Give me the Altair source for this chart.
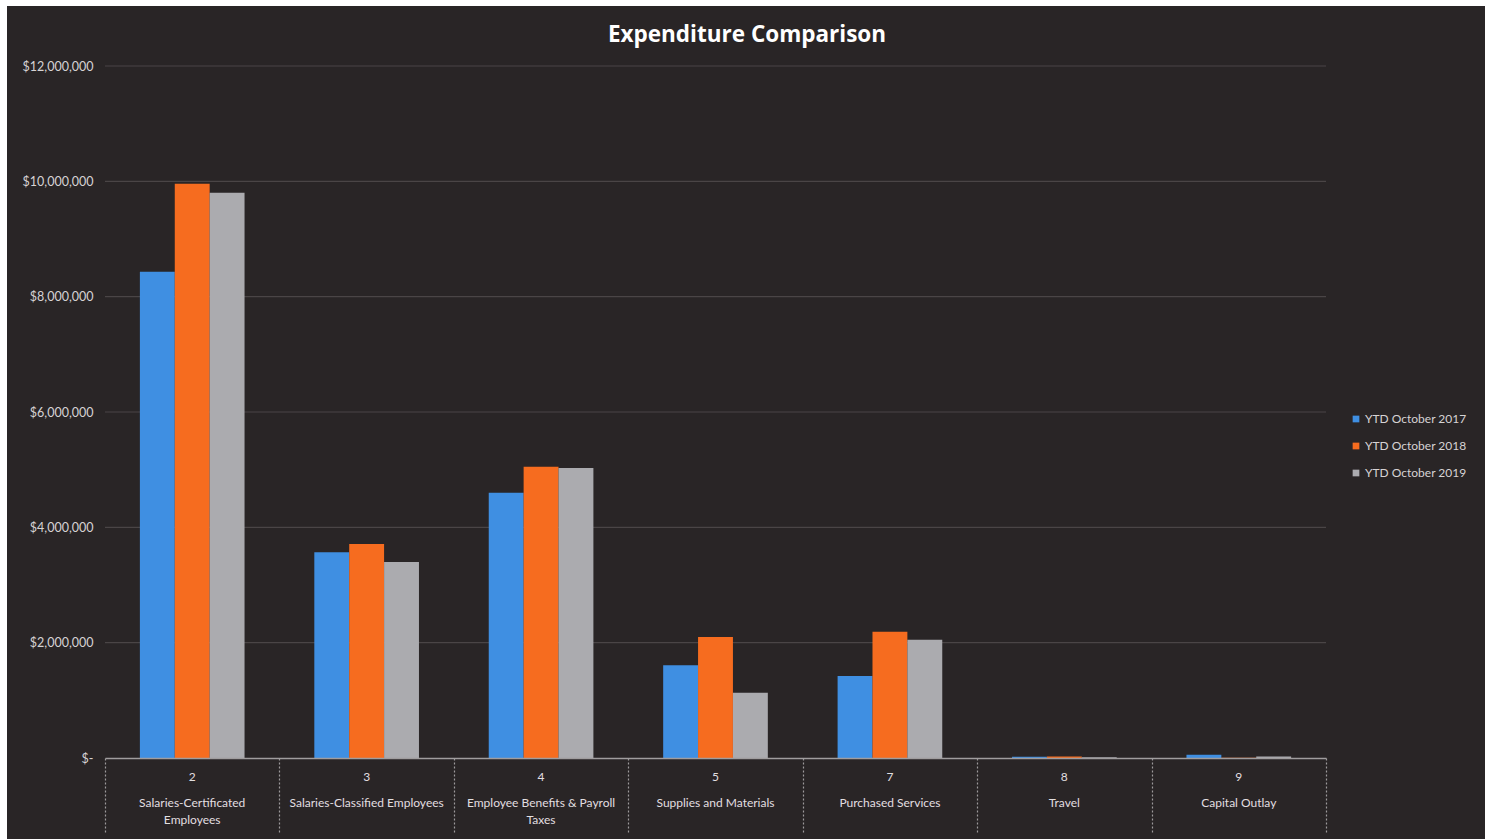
import altair as alt
import pandas as pd

# Object codes and their descriptions along the category axis
codes = ["2", "3", "4", "5", "7", "8", "9"]
names = [
    "Salaries-Certificated\nEmployees",
    "Salaries-Classified Employees",
    "Employee Benefits & Payroll\nTaxes",
    "Supplies and Materials",
    "Purchased Services",
    "Travel",
    "Capital Outlay",
]

# Year-to-date expenditure for each period
series = ["YTD October 2017", "YTD October 2018", "YTD October 2019"]
ytd_2017 = [8430000, 3570000, 4600000, 1610000, 1420000, 22000, 55000]
ytd_2018 = [9960000, 3710000, 5050000, 2100000, 2190000, 26000, 3000]
ytd_2019 = [9800000, 3400000, 5030000, 1130000, 2050000, 12000, 28000]

y_ticks = [2000000, 4000000, 6000000, 8000000, 10000000, 12000000]

title_text = ["Expenditure Comparison"]

colors = ["#3F8FE2", "#F66C1F", "#ABABAF"]

rows = []
for s, vals in zip(series, [ytd_2017, ytd_2018, ytd_2019]):
    for c, v in zip(codes, vals):
        rows.append({"code": c, "series": s, "amount": v})
bars_df = pd.DataFrame(rows)
labels_df = pd.DataFrame({"code": codes, "name": names})
grid_df = pd.DataFrame({"tick": y_ticks})
title_df = pd.DataFrame({"title": title_text})

W, H = 1221, 692
BG = "#292526"
FONT = "Lato"

x_enc = alt.X(
    "code:N",
    sort=codes,
    scale=alt.Scale(paddingInner=0, paddingOuter=0),
    axis=alt.Axis(
        title=None,
        labels=False,
        tickBand="extent",
        tickSize=75,
        tickColor="#9d9a9b",
        tickDash=[2, 2],
        tickWidth=1.2,
        domainColor="#a09d9e",
        domainWidth=1.5,
        grid=False,
        zindex=1,
    ),
)

y_scale = alt.Scale(domain=[0, 12000000], nice=False)

# dark chart panel drawn behind everything else
panel = alt.Chart(pd.DataFrame({"p": [0]})).mark_rect(color=BG).encode(
    x=alt.value(-98), x2=alt.value(1380), y=alt.value(-60), y2=alt.value(H + 81)
)

grid = alt.Chart(grid_df).mark_rule(color="#4a4546", strokeWidth=1.2).encode(
    y=alt.Y("tick:Q", scale=y_scale)
)

bars = alt.Chart(bars_df).mark_bar().encode(
    x=x_enc,
    xOffset=alt.XOffset(
        "series:N",
        sort=series,
        scale=alt.Scale(paddingInner=0, paddingOuter=1),
    ),
    y=alt.Y(
        "amount:Q",
        scale=y_scale,
        axis=alt.Axis(
            title=None,
            values=[0] + y_ticks,
            labelExpr="datum.value == 0 ? '$-' : '$' + format(datum.value, ',')",
            grid=False,
            domain=False,
            ticks=False,
            labelPadding=12,
            labelFont=FONT,
            labelFontSize=12.5,
            labelColor="#d6d3d4",
            zindex=1,
        ),
    ),
    color=alt.Color(
        "series:N",
        sort=series,
        scale=alt.Scale(domain=series, range=colors),
        legend=alt.Legend(
            title=None,
            orient="none",
            legendX=1245,
            legendY=347,
            symbolType="square",
            symbolSize=45,
            symbolStrokeWidth=0,
            labelFont=FONT,
            labelFontSize=12,
            labelColor="#d6d3d4",
            rowPadding=15,
            labelOffset=3,
        ),
    ),
)

code_text = alt.Chart(labels_df).mark_text(
    font=FONT, fontSize=12, color="#e2dfe0", baseline="middle"
).encode(x=alt.X("code:N", sort=codes), y=alt.value(711), text="code:N")

name_text = alt.Chart(labels_df).mark_text(
    font=FONT, fontSize=12, color="#e2dfe0", baseline="top",
    lineBreak="\n", lineHeight=17,
).encode(x=alt.X("code:N", sort=codes), y=alt.value(732), text="name:N")

# chart heading, centred on the dark panel
heading = alt.Chart(title_df).mark_text(
    font="Open Sans", fontSize=22.5, fontWeight="bold", color="#ffffff",
    baseline="middle", align="center",
).encode(x=alt.value(642), y=alt.value(-31), text="title:N")

chart = (
    alt.layer(panel, grid, bars, code_text, name_text, heading)
    .properties(
        width=W,
        height=H,
        background="white",
        padding={"left": 105, "top": 66, "right": 165, "bottom": 81},
        autosize=alt.AutoSizeParams(type="none"),
    )
    .configure_view(stroke=None)
)

chart.save("out.html", embed_options={"renderer": "svg", "actions": False})
